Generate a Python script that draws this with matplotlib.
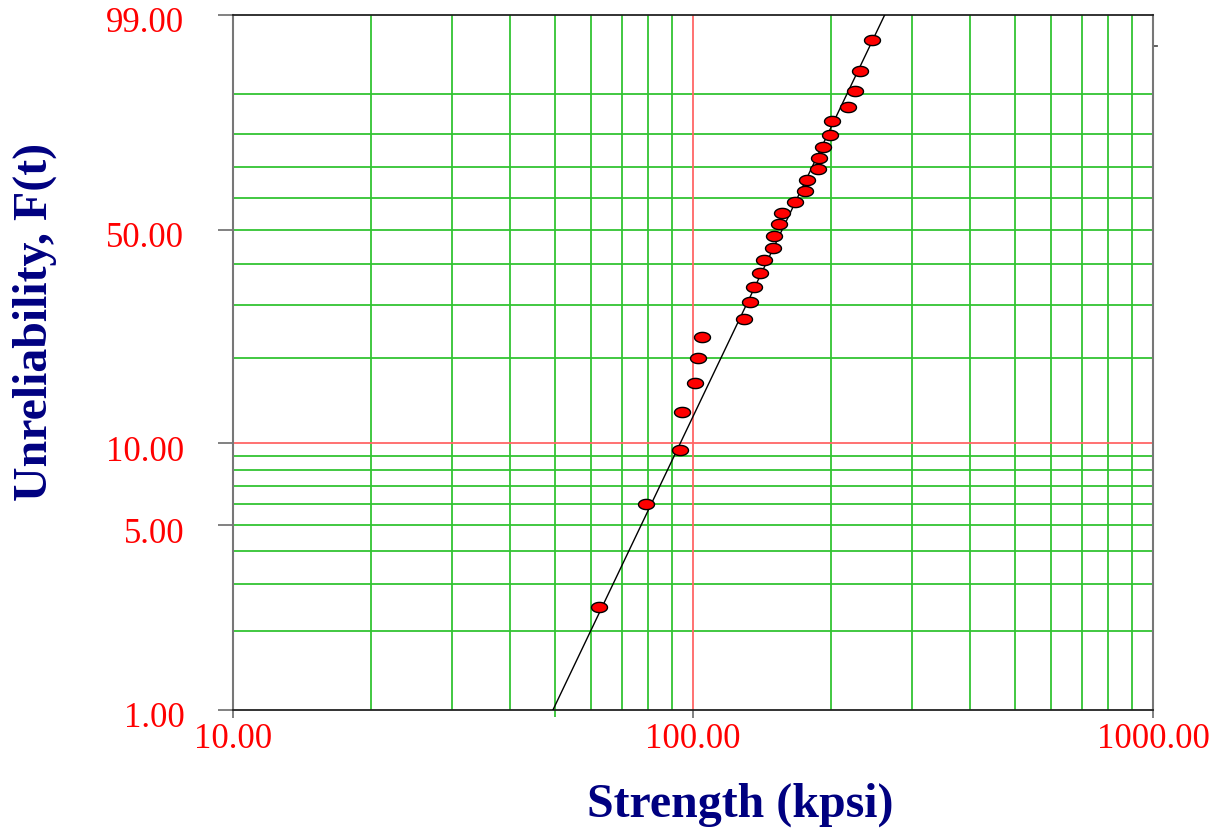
import numpy as np
import matplotlib
matplotlib.use("Agg")
import matplotlib.pyplot as plt
import matplotlib.transforms as mtransforms
from matplotlib.path import Path

# ---- data ----
strength = [62.5, 79.0, 93.7, 94.6, 101.0, 102.5, 104.6, 129.1, 133.0, 135.7,
            139.9, 142.7, 149.3, 150.1, 153.8, 156.2, 166.6, 175.2, 176.9, 186.9,
            187.9, 191.7, 198.5, 200.5, 217.3, 225.0, 230.7, 245.0]
unrel = [2.46, 6.0, 9.5, 13.0, 16.5, 20.1, 23.6, 27.1, 30.6, 34.2,
         37.7, 41.2, 44.7, 48.2, 51.8, 55.3, 58.8, 62.3, 65.8, 69.4,
         72.9, 76.4, 79.9, 83.5, 87.0, 90.5, 94.0, 97.5]
fit_t = [49.6, 261.0]
fit_F = [1.0, 99.0]

x_ticks = [10, 100, 1000]
x_labels = ["10.00", "100.00", "1000.00"]
y_ticks = [1, 5, 10, 50, 99]
y_labels = ["1.00", "5.00", "10.00", "50.00", "99.00"]
x_grid = [20, 30, 40, 50, 60, 70, 80, 90, 200, 300, 400, 500, 600, 700, 800, 900]
y_grid = [2, 3, 4, 5, 6, 7, 8, 9, 20, 30, 40, 50, 60, 70, 80, 90]

plt.rcParams['font.family'] = ['Liberation Serif', 'DejaVu Serif']

def fwd(F):
    F = np.clip(np.asarray(F, dtype=float), 1e-6, 100 - 1e-6)
    return np.log(-np.log(1 - F / 100.0))

def inv(w):
    return 100.0 * (1 - np.exp(-np.exp(np.asarray(w, dtype=float))))

fig = plt.figure(figsize=(12.11, 8.32), dpi=100)
ax = fig.add_axes([233/1211, 1-710/832, 920/1211, 695/832])
ax.set_xscale('log')
ax.set_yscale('function', functions=(fwd, inv))
ax.set_xlim(10, 1000)
ax.set_ylim(1, 99)

gc = '#33c433'
for g in x_grid:
    ax.axvline(g, color=gc, lw=1.3, zorder=1)
for g in y_grid:
    ax.axhline(g, color=gc, lw=1.3, zorder=1)
ax.axvline(100, color='#ff6666', lw=1.3, zorder=1.1)
ax.axhline(10, color='#ff6666', lw=1.3, zorder=1.1)

# fit line
ax.plot(fit_t, fit_F, color='black', lw=1.0, zorder=3)

# elliptical marker
th = np.linspace(0, 2*np.pi, 60)
ell = Path(np.column_stack([np.cos(th), 0.64*np.sin(th)]), closed=True)
ax.plot(strength, unrel, linestyle='none', marker=ell, markersize=11.5,
        markerfacecolor='red', markeredgecolor='black', markeredgewidth=1.0, zorder=4)

ax.set_xticks(x_ticks)
ax.set_xticklabels(x_labels)
ax.xaxis.set_minor_locator(matplotlib.ticker.FixedLocator([50]))
ax.xaxis.set_minor_formatter(matplotlib.ticker.NullFormatter())
ax.set_yticks(y_ticks)
ax.set_yticklabels(y_labels)
ax.yaxis.set_minor_locator(matplotlib.ticker.NullLocator())

ax.tick_params(axis='x', which='major', direction='out', length=6, width=1.3,
               colors='#777777', labelcolor='red', labelsize=25, pad=3)
ax.tick_params(axis='x', which='minor', direction='out', length=5, width=1.3, colors=gc)
ax.tick_params(axis='y', which='major', direction='out', length=11, width=1.3,
               colors='#777777', labelcolor='red', labelsize=25, pad=24)
xt = ax.xaxis.get_major_ticks()
xt[1].tick1line.set_color('#ff6666')
yt = ax.yaxis.get_major_ticks()
yt[1].tick1line.set_color(gc)
yt[2].tick1line.set_color('#ff6666')
off = mtransforms.ScaledTranslation(0, -5/100, fig.dpi_scale_trans)
for t in yt:
    t.label1.set_transform(t.label1.get_transform() + off)

# right-side small tick
ax.plot([1.0, 1.004], [97, 97], transform=ax.get_yaxis_transform(), color='#555555',
        lw=1.3, clip_on=False)

for s in ['left', 'right']:
    ax.spines[s].set_color('#777777')
    ax.spines[s].set_linewidth(1.5)
for s in ['top', 'bottom']:
    ax.spines[s].set_color('#222222')
    ax.spines[s].set_linewidth(1.3)

fig.text(740.5/1211, 1-805/832, 'Strength (kpsi)', ha='center', va='center',
         fontsize=34.5, fontweight='bold', color='#000080')
fig.text(35/1211, 1-322/832, 'Unreliability, F(t)', ha='center', va='center',
         rotation=90, fontsize=34.5, fontweight='bold', color='#000080')

fig.savefig('out.png', dpi=100)
